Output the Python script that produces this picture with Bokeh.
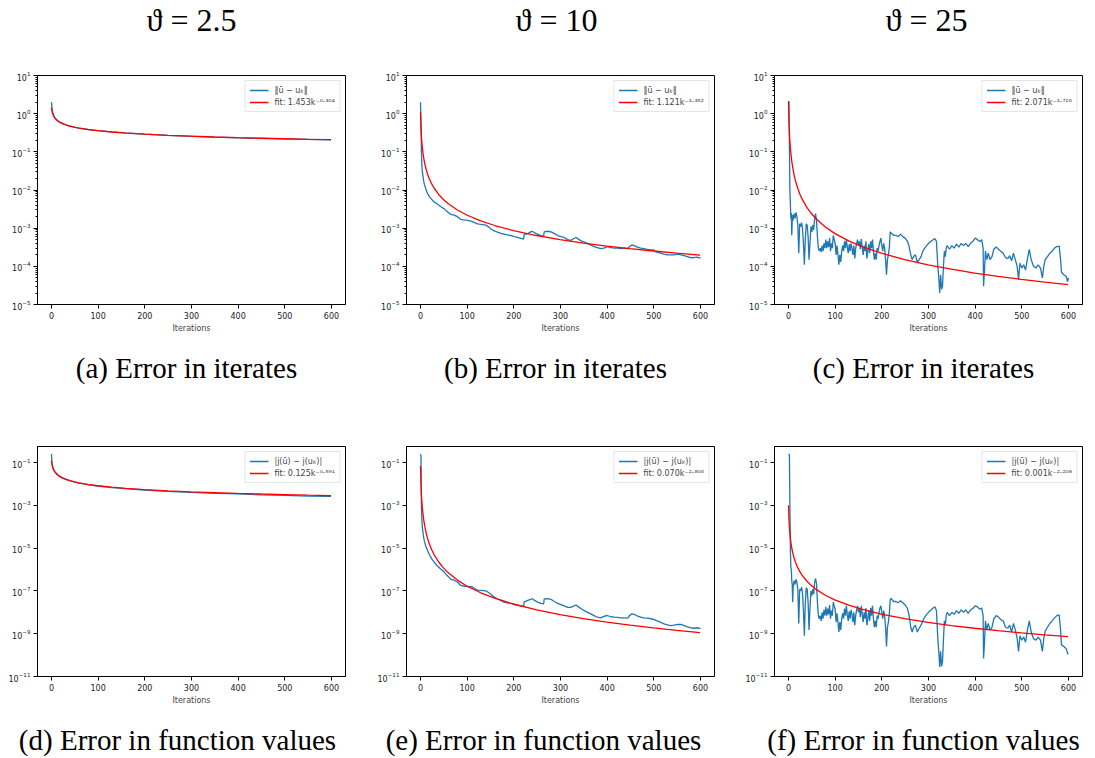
from bokeh.plotting import figure
from bokeh.models import Range1d, FixedTicker, LogTickFormatter, Legend, LegendItem
from bokeh.layouts import column, row
from bokeh.embed import file_html
from bokeh.resources import INLINE
from bokeh.core.properties import value

# ---------------- data ----------------
COL_TITLES = ["ϑ = 2.5", "ϑ = 10", "ϑ = 25"]
CAPTIONS_TOP = ["(a) Error in iterates", "(b) Error in iterates", "(c) Error in iterates"]
CAPTIONS_BOT = ["(d) Error in function values", "(e) Error in function values", "(f) Error in function values"]
X_TICKS = [0, 100, 200, 300, 400, 500, 600]
Y_TICKS_TOP = [1e-5, 1e-4, 1e-3, 1e-2, 1e-1, 1e0, 1e1]
Y_TICKS_BOT = [1e-11, 1e-9, 1e-7, 1e-5, 1e-3, 1e-1]
LEG_ITER = "‖ū − uₖ‖"
LEG_FUNC = "|j(ū) − j(uₖ)|"
FIT_LABELS = ["fit: 1.453k⁻⁰·³⁰⁴", "fit: 1.121k⁻¹·³⁵²", "fit: 2.071k⁻¹·⁷²⁶",
              "fit: 0.125k⁻⁰·⁵⁹¹", "fit: 0.070k⁻²·⁸⁰⁶", "fit: 0.001k⁻²·²⁰⁸"]

# iteration grid used for the smooth curves (fit lines and panels a, d)
FIT_X = [0, 1, 2, 3, 4, 5, 7, 9, 12, 15, 19, 24, 29, 39, 49, 59, 79, 99, 129, 159,
         199, 249, 299, 349, 399, 449, 499, 549, 599]

FIT_A = [1.453, 1.177, 1.040, 0.953, 0.891, 0.843, 0.772, 0.721, 0.666, 0.626, 0.584,
         0.546, 0.517, 0.473, 0.442, 0.418, 0.383, 0.358, 0.331, 0.311, 0.290, 0.271,
         0.257, 0.245, 0.235, 0.227, 0.220, 0.213, 0.208]
FIT_B = [1.121, 0.439, 0.2539, 0.1720, 0.1272, 0.0994, 0.0674, 0.0498, 0.0350, 0.0264,
         0.01953, 0.01444, 0.01128, 0.00765, 0.00566, 0.00442, 0.00300, 0.002216,
         0.001554, 0.001174, 0.000868, 0.000642, 0.000502, 0.000407, 0.000340,
         0.000290, 0.000252, 0.000221, 0.000197]
FIT_C = [2.071, 0.626, 0.311, 0.1892, 0.1288, 0.0940, 0.0572, 0.0389, 0.02474, 0.01729,
         0.01177, 0.00801, 0.00584, 0.003556, 0.002420, 0.001767, 0.001075, 0.000731,
         0.000465, 0.000325, 0.000221, 0.0001504, 0.0001098, 8.42e-5, 6.68e-5,
         5.45e-5, 4.55e-5, 3.86e-5, 3.32e-5]
FIT_D = [0.125, 0.0830, 0.0653, 0.0551, 0.0483, 0.0434, 0.0366, 0.0321, 0.02746, 0.02428,
         0.02128, 0.01865, 0.01675, 0.01413, 0.01238, 0.01112, 0.00938, 0.00822,
         0.00704, 0.00623, 0.00546, 0.00478, 0.00430, 0.00392, 0.00362, 0.00338,
         0.00318, 0.00300, 0.00285]
FIT_E = [0.070, 0.0100, 0.00321, 0.001431, 0.000765, 0.000459, 0.0002047, 0.0001094,
         5.24e-5, 2.93e-5, 1.565e-5, 8.37e-6, 5.01e-6, 2.24e-6, 1.196e-6, 7.17e-7,
         3.20e-7, 1.710e-7, 8.19e-8, 4.57e-8, 2.446e-8, 1.308e-8, 7.84e-9, 5.09e-9,
         3.50e-9, 2.51e-9, 1.87e-9, 1.43e-9, 1.12e-9]
FIT_F = [0.001, 2.164e-4, 8.84e-5, 4.68e-5, 2.862e-5, 1.913e-5, 1.014e-5, 6.19e-6,
         3.47e-6, 2.195e-6, 1.341e-6, 8.19e-7, 5.48e-7, 2.90e-7, 1.773e-7, 1.185e-7,
         6.28e-8, 3.84e-8, 2.150e-8, 1.359e-8, 8.31e-9, 5.07e-9, 3.39e-9, 2.41e-9,
         1.80e-9, 1.386e-9, 1.098e-9, 8.90e-10, 7.34e-10]

# panel (a) / (d) errors (same grid as FIT_X)
ERR_A = [2.0, 1.42, 1.20, 1.06, 0.97, 0.90, 0.80, 0.74, 0.68, 0.635, 0.59, 0.55, 0.52,
         0.475, 0.445, 0.42, 0.385, 0.36, 0.333, 0.312, 0.29, 0.27, 0.255, 0.243, 0.233,
         0.225, 0.218, 0.212, 0.207]
ERR_D = [0.25, 0.10, 0.075, 0.062, 0.053, 0.047, 0.039, 0.034, 0.029, 0.0255, 0.0223,
         0.0193, 0.0172, 0.0143, 0.0124, 0.0110, 0.0092, 0.0080, 0.0068, 0.0060, 0.0052,
         0.0045, 0.0040, 0.0036, 0.0034, 0.0031, 0.0029, 0.0027, 0.0026]

# panel (b) / (e)
ITER_BE = [0, 1, 2, 3, 4, 6, 8, 11, 15, 20, 25, 30, 36, 43, 51, 56, 61, 65, 72, 79, 86, 92,
           101, 110, 116, 122, 130, 140, 145, 151, 158, 165, 172, 179, 186, 194, 201, 208,
           215, 221, 222, 230, 236, 240, 245, 250, 258, 264, 265, 272, 280, 287, 294, 301,
           308, 315, 322, 327, 333, 340, 346, 351, 358, 365, 372, 379, 386, 393, 400, 408,
           415, 422, 430, 437, 444, 448, 453, 458, 465, 472, 479, 486, 494, 500, 504, 510,
           516, 522, 529, 536, 543, 551, 558, 565, 572, 579, 586, 593, 600]
ERR_B = [2.0, 0.6, 0.1, 0.045, 0.03, 0.02, 0.0145, 0.011, 0.0082, 0.0065, 0.0055, 0.0048,
         0.0043, 0.0037, 0.0032, 0.0028, 0.0025, 0.0023, 0.0022, 0.0020, 0.0017, 0.00165,
         0.0016, 0.0015, 0.0014, 0.0013, 0.00125, 0.0012, 0.0011, 0.00095, 0.00085,
         0.00079, 0.00073, 0.0007, 0.00067, 0.00064, 0.0006, 0.00057, 0.00054, 0.00052,
         0.00068, 0.00072, 0.0008, 0.00082, 0.00075, 0.0007, 0.00064, 0.00062, 0.0008,
         0.00083, 0.0008, 0.00072, 0.00064, 0.0006, 0.00057, 0.0005, 0.00048, 0.00052,
         0.00057, 0.0005, 0.00045, 0.00043, 0.0004, 0.00036, 0.00033, 0.00031, 0.00029,
         0.0003, 0.00033, 0.00031, 0.0003, 0.0003, 0.00029, 0.0003, 0.00029, 0.00033,
         0.00036, 0.00035, 0.00032, 0.0003, 0.00029, 0.00028, 0.00027, 0.00027, 0.00024,
         0.00023, 0.00022, 0.00021, 0.0002, 0.0002, 0.0002, 0.00021, 0.0002, 0.00019,
         0.00018, 0.000168, 0.00017, 0.000175, 0.000165]
ERR_E = [0.25, 0.2, 8e-4, 2e-4, 9.5e-5, 4e-5, 2.3e-5, 1.3e-5, 7.8e-6, 4.5e-6, 3e-6, 2.1e-6,
         1.5e-6, 1.05e-6, 7.6e-7, 5.5e-7, 4.4e-7, 3.5e-7, 3.2e-7, 2.6e-7, 1.8e-7, 1.7e-7,
         1.6e-7, 1.6e-7, 1.3e-7, 1.1e-7, 1.05e-7, 1e-7, 8.7e-8, 7e-8, 5.1e-8, 4.2e-8,
         3.6e-8, 3e-8, 2.8e-8, 2.6e-8, 2.3e-8, 2.1e-8, 2e-8, 1.9e-8, 3e-8, 3.6e-8, 4e-8,
         4.3e-8, 3.5e-8, 3.1e-8, 2.6e-8, 2.5e-8, 4.2e-8, 4.4e-8, 4e-8, 3.2e-8, 2.6e-8,
         2.3e-8, 2e-8, 1.7e-8, 1.7e-8, 1.9e-8, 2.2e-8, 1.7e-8, 1.4e-8, 1.2e-8, 1e-8,
         8.5e-9, 7e-9, 5.9e-9, 5.5e-9, 6.5e-9, 7.1e-9, 6.2e-9, 5.9e-9, 5.8e-9, 5.5e-9,
         5.5e-9, 5.3e-9, 7e-9, 8.5e-9, 8e-9, 6.7e-9, 6e-9, 5.5e-9, 5.3e-9, 5e-9, 4.7e-9,
         4.2e-9, 3.8e-9, 3.3e-9, 2.9e-9, 2.6e-9, 2.4e-9, 2.5e-9, 2.7e-9, 2.7e-9, 2.4e-9,
         2.1e-9, 1.9e-9, 1.8e-9, 1.9e-9, 1.75e-9]

# panel (c) / (f)
ITER_CF = [0, 1, 2, 3, 4, 5, 6, 7, 8, 9, 10, 12, 14, 16, 18, 20, 22, 24, 26, 28, 30, 32, 34,
           36, 38, 40, 42, 44, 46, 48, 50, 52, 54, 56, 58, 60, 62, 64, 66, 68, 70, 72, 74,
           76, 78, 80, 82, 84, 86, 88, 90, 92, 94, 96, 98, 100, 102, 104, 106, 108, 110,
           112, 114, 116, 118, 120, 122, 124, 126, 128, 130, 132, 134, 136, 138, 140, 142,
           144, 146, 148, 150, 152, 154, 156, 158, 160, 162, 164, 166, 168, 170, 172, 174,
           176, 178, 180, 182, 184, 186, 188, 190, 192, 194, 196, 198, 200, 202, 204, 206,
           208, 210, 212, 214, 216, 218, 220, 225, 230, 235, 240, 245, 250, 255, 258, 262,
           265, 268, 272, 276, 280, 284, 288, 292, 296, 300, 305, 310, 314, 317, 320, 322,
           324, 326, 328, 330, 332, 334, 336, 338, 340, 345, 350, 355, 360, 365, 370, 375,
           380, 385, 390, 395, 400, 405, 410, 414, 417, 418, 420, 422, 425, 428, 432, 436,
           440, 445, 450, 455, 460, 465, 470, 474, 478, 482, 486, 490, 493, 496, 500, 504,
           508, 512, 516, 520, 525, 530, 535, 540, 544, 547, 550, 555, 560, 565, 570, 575,
           580, 583, 585, 590, 595, 598, 600]
ERR_C = [2.0, 2.1, 0.12, 0.01, 4.3e-3, 1.8e-3, 2.5e-3, 6.5e-4, 1.7e-3, 2.2e-3, 1.6e-3,
         2.4e-3, 1.8e-3, 2.6e-3, 2.0e-3, 1.2e-3, 2.2e-4, 1.3e-3, 1.1e-3, 1.4e-3, 1.0e-3,
         4e-4, 1.1e-4, 5e-4, 1.3e-3, 1.2e-3, 6e-4, 1.5e-4, 4e-4, 1.1e-3, 8e-4, 1.2e-3,
         9e-4, 1.8e-3, 2.4e-3, 1.6e-3, 6e-4, 3e-4, 2.5e-4, 3e-4, 2.4e-4, 3.5e-4, 2.5e-4,
         4e-4, 3e-4, 5e-4, 3e-4, 4.5e-4, 3.2e-4, 5.5e-4, 2.5e-4, 4e-4, 3e-4, 6.5e-4, 5e-4,
         4e-4, 2e-4, 3.5e-4, 2e-4, 1.1e-4, 2e-4, 1.3e-4, 2.5e-4, 3.5e-4, 2.5e-4, 4.5e-4,
         3e-4, 5e-4, 3.2e-4, 2.2e-4, 3.8e-4, 2.5e-4, 4e-4, 3e-4, 2e-4, 3.5e-4, 1.6e-4,
         3e-4, 4e-4, 5e-4, 3.5e-4, 4.5e-4, 2.8e-4, 5.2e-4, 3.2e-4, 2e-4, 3.5e-4, 2.5e-4,
         4.5e-4, 1.6e-4, 2.5e-4, 3.8e-4, 2.2e-4, 4.5e-4, 3e-4, 5e-4, 2.5e-4, 1.5e-4,
         2.2e-4, 1.5e-4, 3e-4, 2.5e-4, 3.5e-4, 4.5e-4, 5.5e-4, 3.5e-4, 2.5e-4, 4e-4, 3e-4,
         1.5e-4, 6e-5, 1.5e-4, 2e-4, 3e-4, 8e-4, 7.5e-4, 6.5e-4, 6.5e-4, 6e-4, 7e-4, 6e-4,
         5.5e-4, 4.5e-4, 3.5e-4, 2e-4, 1.5e-4, 1.8e-4, 2e-4, 1.3e-4, 1.5e-4, 1.8e-4,
         2.5e-4, 3e-4, 3.5e-4, 4e-4, 4.5e-4, 5e-4, 5.3e-4, 4.5e-4, 1e-4, 5e-5, 2e-5, 6e-5,
         2.5e-5, 3e-5, 1e-4, 2.5e-4, 1.8e-4, 3e-4, 3.5e-4, 2.8e-4, 3.5e-4, 3e-4, 3.8e-4,
         3.2e-4, 4e-4, 3.5e-4, 4e-4, 3.3e-4, 4e-4, 4.5e-4, 5.5e-4, 5e-4, 4.5e-4, 5e-4,
         3e-4, 3e-5, 8e-5, 2.5e-4, 1.5e-4, 2.2e-4, 1.5e-4, 1.8e-4, 2.8e-4, 3.2e-4, 2.8e-4,
         2.5e-4, 2.2e-4, 1.7e-4, 1.6e-4, 1.9e-4, 1.4e-4, 2.2e-4, 1.5e-4, 1e-4, 4.5e-5,
         1.2e-4, 9e-5, 1.1e-4, 8e-5, 1.6e-4, 2.8e-4, 1.5e-4, 1e-4, 9e-5, 1.1e-4, 9e-5,
         5e-5, 1e-4, 1.5e-4, 1.8e-4, 2.2e-4, 2.5e-4, 3e-4, 3.3e-4, 3.4e-4, 1.5e-4, 7e-5,
         6e-5, 5.5e-5, 4e-5, 5e-5]
ERR_F = [0.25, 0.25, 0.22, 1e-3, 1e-5, 1.3e-6, 1e-6, 3e-7, 2e-7, 3e-8, 1.5e-7, 3e-7,
         2e-7, 3.5e-7, 2.5e-7, 1.2e-7, 3e-9, 1.2e-7, 1e-7, 1.5e-7, 8e-8, 1.2e-8, 8e-10,
         2.5e-8, 1.4e-7, 1.2e-7, 3e-8, 1.5e-9, 1.5e-8, 1e-7, 6e-8, 1.2e-7, 7e-8, 2.5e-7,
         3.8e-7, 2.2e-7, 3e-8, 7e-9, 5e-9, 7e-9, 4e-9, 1e-8, 5e-9, 1.3e-8, 7e-9, 1.8e-8,
         7e-9, 1.5e-8, 8e-9, 2.2e-8, 5e-9, 1.2e-8, 7e-9, 3e-8, 2e-8, 1.4e-8, 3.5e-9, 9e-9,
         3.5e-9, 1.2e-9, 3.5e-9, 1.5e-9, 5e-9, 9e-9, 5e-9, 1.5e-8, 7e-9, 2e-8, 8e-9, 4e-9,
         1.1e-8, 5e-9, 1.3e-8, 8e-9, 3.5e-9, 1e-8, 2.5e-9, 7e-9, 1.3e-8, 2e-8, 1e-8,
         1.6e-8, 6e-9, 2e-8, 8e-9, 3.5e-9, 1e-8, 5e-9, 1.6e-8, 2.5e-9, 5e-9, 1.2e-8, 4e-9,
         1.6e-8, 7e-9, 2e-8, 5e-9, 2e-9, 4e-9, 2e-9, 7e-9, 5e-9, 1e-8, 1.6e-8, 2e-8, 1e-8,
         5e-9, 1.2e-8, 7e-9, 2e-9, 2.5e-10, 2e-9, 3.5e-9, 8e-9, 4e-8, 4.5e-8, 3.2e-8,
         3.2e-8, 2.8e-8, 3.5e-8, 2.8e-8, 2.2e-8, 1.5e-8, 8e-9, 2e-9, 1.2e-9, 2e-9, 2.5e-9,
         1.2e-9, 1.8e-9, 2.5e-9, 4e-9, 6e-9, 8e-9, 1e-8, 1.3e-8, 1.6e-8, 1.8e-8, 1.2e-8,
         6e-10, 1.5e-10, 2.8e-11, 1.5e-10, 3e-11, 5e-11, 5e-10, 4e-9, 2.5e-9, 7e-9, 1e-8,
         7e-9, 1e-8, 8e-9, 1.2e-8, 9e-9, 1.3e-8, 1e-8, 1.3e-8, 9e-9, 1.3e-8, 1.5e-8, 2e-8,
         1.8e-8, 1.4e-8, 1.6e-8, 7e-9, 7e-11, 4e-10, 4e-9, 1.5e-9, 3e-9, 1.5e-9, 2e-9,
         5e-9, 7e-9, 6e-9, 4.5e-9, 4e-9, 2e-9, 1.8e-9, 2.5e-9, 1.2e-9, 3e-9, 1.5e-9,
         6e-10, 1.5e-10, 8e-10, 5e-10, 7e-10, 4e-10, 1.5e-9, 4e-9, 1.2e-9, 6e-10, 5e-10,
         7e-10, 5e-10, 1.5e-10, 6e-10, 1.3e-9, 2e-9, 3e-9, 4e-9, 5.5e-9, 7e-9, 7.5e-9,
         1.5e-9, 3e-10, 2.5e-10, 2e-10, 1.2e-10, 1.1e-10]

BLUE = "#1f77b4"
RED = "#ff0000"
TICK_FONT = "DejaVu Sans"
SERIF = "Liberation Serif"


def minor_log(lo, hi):
    out = []
    for e in range(lo, hi):
        for m in range(2, 10):
            out.append(m * 10.0 ** e)
    return out


def panel(left, right, top, fh, yr, yticks, yminor, bx, by, fx, fy, lab1, lab2):
    p = figure(frame_width=308, frame_height=fh, min_border_left=left,
               min_border_right=right, min_border_top=top, min_border_bottom=36,
               x_range=Range1d(-30, 630), y_range=Range1d(*yr), y_axis_type="log",
               toolbar_location=None, output_backend="svg")
    p.xgrid.visible = False
    p.ygrid.visible = False
    p.outline_line_color = "black"
    p.outline_line_width = 1
    p.outline_line_alpha = 1
    p.background_fill_color = "white"
    p.border_fill_color = "white"

    p.xaxis.ticker = FixedTicker(ticks=X_TICKS)
    p.xaxis.axis_label = "Iterations"
    p.yaxis.ticker = FixedTicker(ticks=yticks, minor_ticks=yminor)
    p.yaxis.formatter = LogTickFormatter()
    for ax in (p.xaxis[0], p.yaxis[0]):
        ax.axis_line_color = "black"
        ax.major_tick_line_color = "black"
        ax.minor_tick_line_color = "black"
        ax.major_tick_in = 0
        ax.major_tick_out = 4
        ax.minor_tick_in = 0
        ax.minor_tick_out = 2
        ax.major_label_text_font = TICK_FONT
        ax.major_label_text_font_size = "8px"
        ax.major_label_text_color = "#222222"
        ax.major_label_standoff = 3
        ax.axis_label_text_font = TICK_FONT
        ax.axis_label_text_font_size = "8px"
        ax.axis_label_text_font_style = "normal"
        ax.axis_label_standoff = 2
    p.xaxis.minor_tick_line_color = None

    r1 = p.line(bx, by, color=BLUE, line_width=1.3)
    r2 = p.line(fx, fy, color=RED, line_width=1.3)
    leg = Legend(items=[LegendItem(label=lab1, renderers=[r1]),
                        LegendItem(label=lab2, renderers=[r2])],
                 location="top_right", label_text_font=TICK_FONT,
                 label_text_font_size="8px", glyph_width=19, glyph_height=10,
                 label_height=10, spacing=2, padding=4, margin=5, label_standoff=6,
                 border_line_color="#cccccc", border_line_width=1,
                 background_fill_alpha=0.8)
    p.add_layout(leg)
    return p


def strip(h, xs, ys, texts, size):
    s = figure(width=1095, height=h, x_range=Range1d(0, 1095), y_range=Range1d(h, 0),
               x_axis_type=None, y_axis_type=None, toolbar_location=None,
               output_backend="svg", min_border=0, outline_line_color=None)
    s.xgrid.visible = False
    s.ygrid.visible = False
    s.text(x=xs, y=ys, text=texts, text_font=value(SERIF), text_font_size=size,
           text_align="center", text_baseline="middle", text_color="black")
    return s


TOP_YR = (1e-5, 10)
BOT_YR = (1e-11, 10 ** -0.25)
top_minor = minor_log(-5, 1)

pa = panel(37, 15, 15, 229, TOP_YR, Y_TICKS_TOP, top_minor, FIT_X, ERR_A, FIT_X, FIT_A,
           LEG_ITER, FIT_LABELS[0])
pb = panel(46, 16, 15, 229, TOP_YR, Y_TICKS_TOP, top_minor, ITER_BE, ERR_B, FIT_X, FIT_B,
           LEG_ITER, FIT_LABELS[1])
pc = panel(44, 13, 15, 229, TOP_YR, Y_TICKS_TOP, top_minor, ITER_CF, ERR_C, FIT_X, FIT_C,
           LEG_ITER, FIT_LABELS[2])
pd = panel(37, 15, 46, 230, BOT_YR, Y_TICKS_BOT, [], FIT_X, ERR_D, FIT_X, FIT_D,
           LEG_FUNC, FIT_LABELS[3])
pe = panel(46, 16, 46, 230, BOT_YR, Y_TICKS_BOT, [], ITER_BE, ERR_E, FIT_X, FIT_E,
           LEG_FUNC, FIT_LABELS[4])
pf = panel(44, 13, 46, 230, BOT_YR, Y_TICKS_BOT, [], ITER_CF, ERR_F, FIT_X, FIT_F,
           LEG_FUNC, FIT_LABELS[5])

titles = strip(60, [191, 556, 926], [19, 19, 19], COL_TITLES, "32px")
cap1 = strip(60, [186, 555, 923], [27, 27, 27], CAPTIONS_TOP, "29px")
cap2 = strip(46, [177, 543, 923], [27, 27, 27], CAPTIONS_BOT, "29px")

layout = column(titles, row(pa, pb, pc), cap1, row(pd, pe, pf), cap2)

with open("out.html", "w") as f:
    f.write(file_html(layout, INLINE))
